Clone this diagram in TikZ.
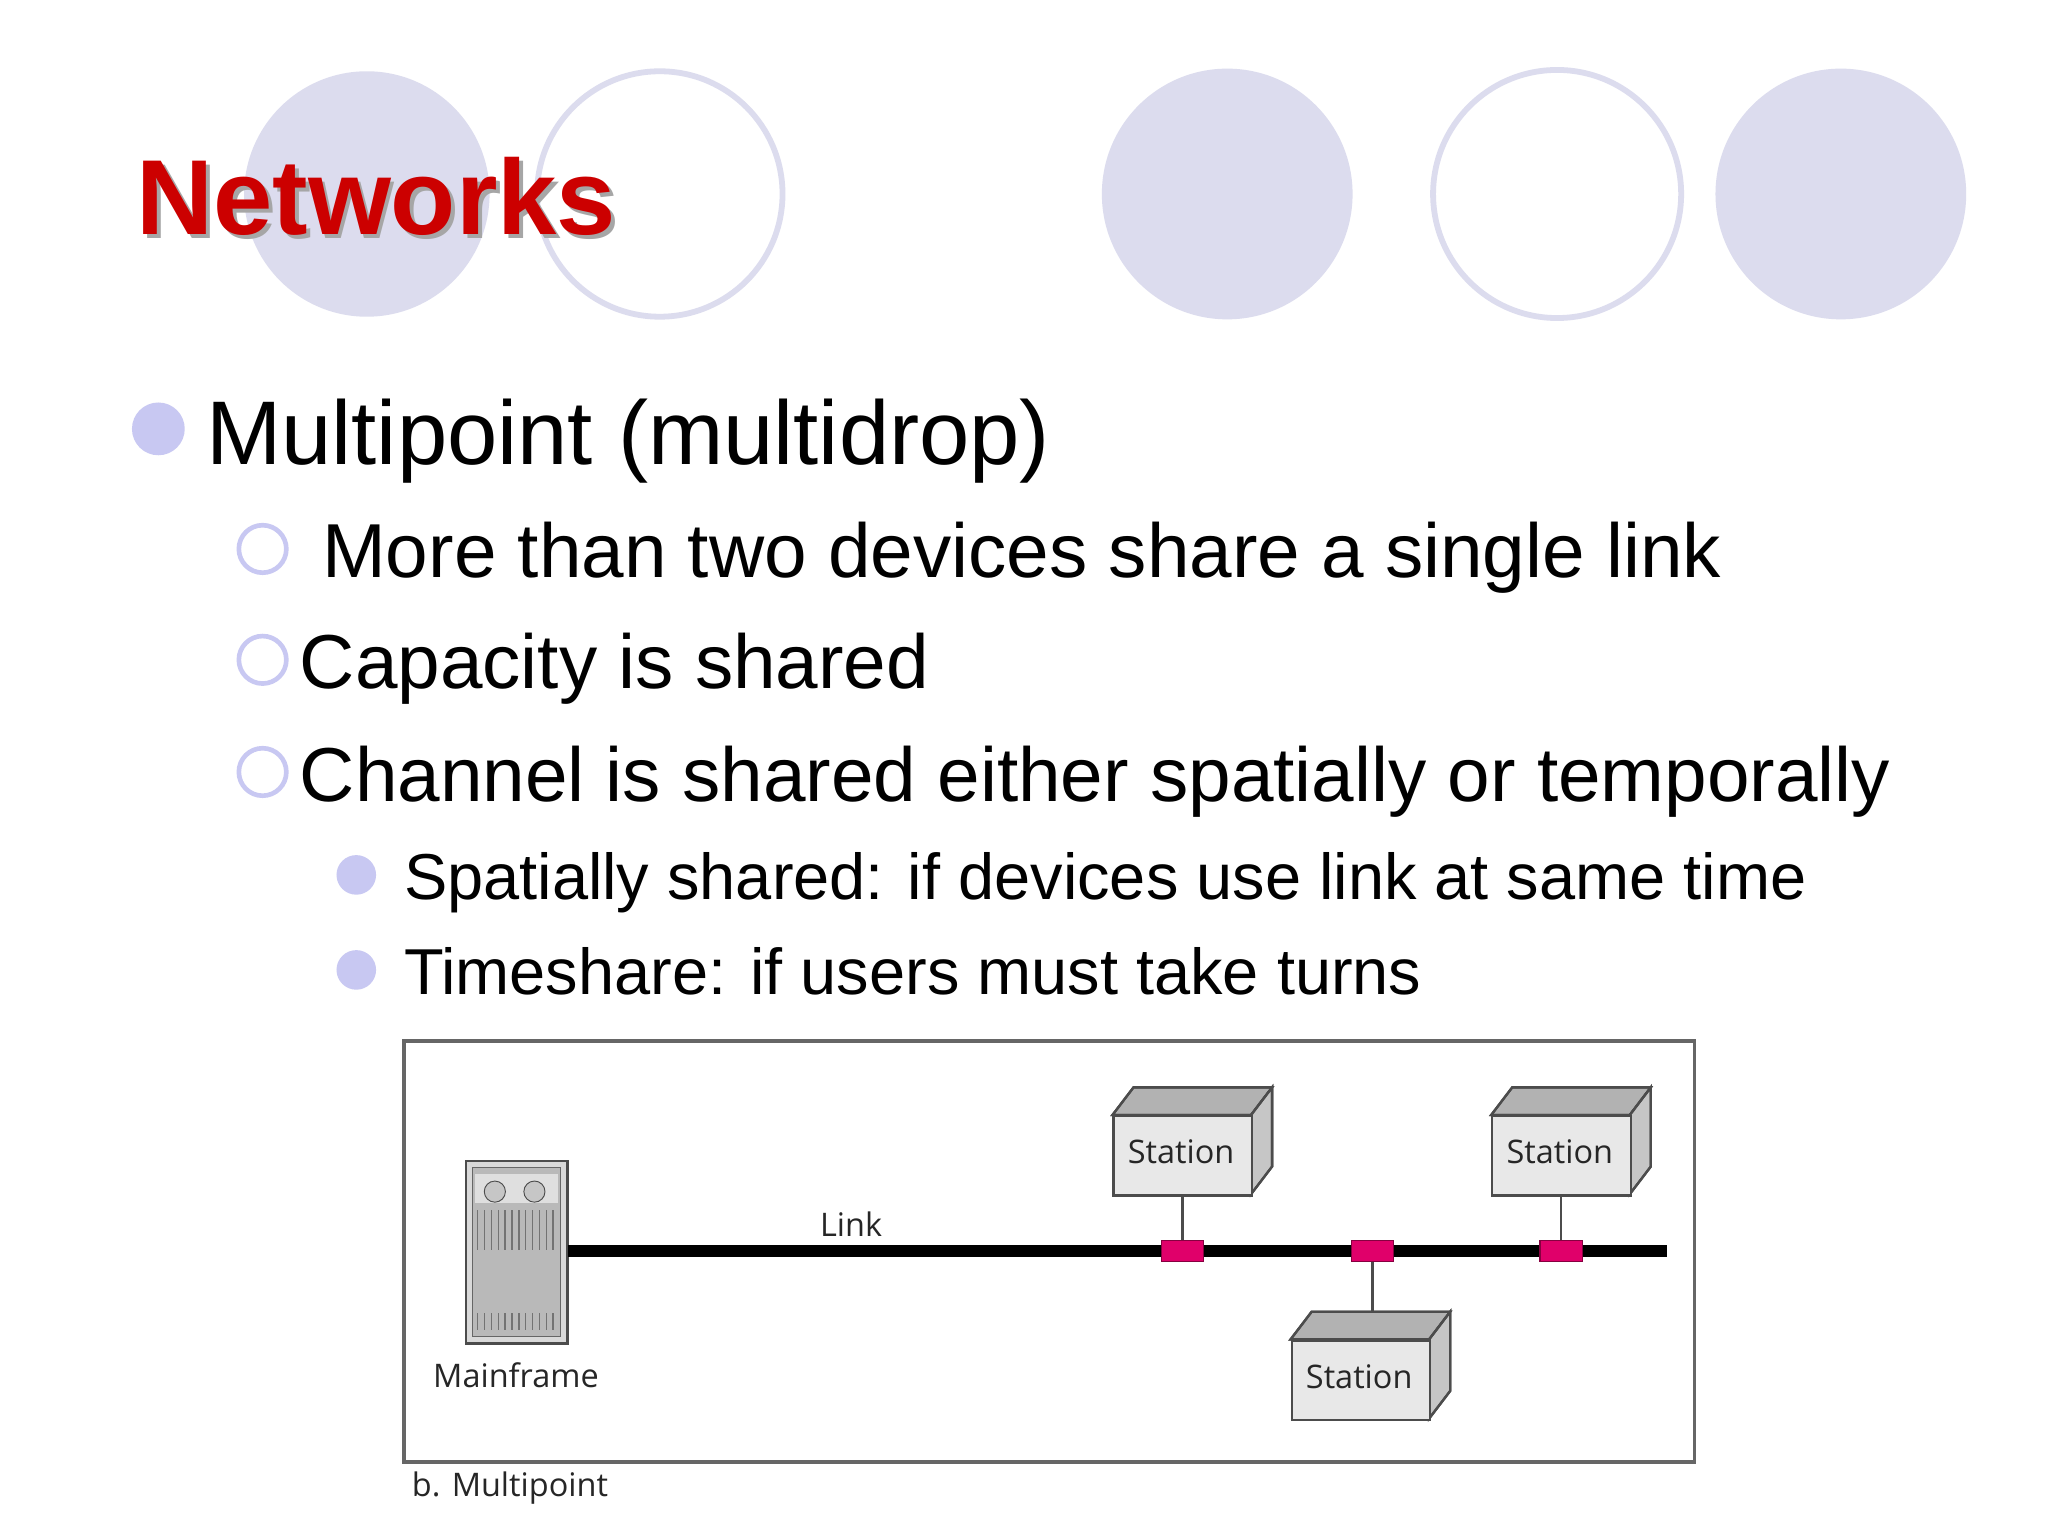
\documentclass[tikz,border=0pt]{standalone}
\usepackage{fontspec}
\setmainfont{Liberation Sans}
\newfontfamily\figfont{Open Sans}
\begin{document}
\begin{tikzpicture}[x=0.02cm,y=-0.02cm]
\definecolor{lav}{HTML}{DCDCEE}
\definecolor{lavb}{HTML}{C8C8F2}
\definecolor{tred}{HTML}{CC0000}
\definecolor{pinkc}{HTML}{E0006A}
\tikzset{
  deco/.style={fill=lav,draw=none},
  decoo/.style={draw=lav,line width=2.5pt,fill=white},
  lvA/.style={anchor=base west,font=\fontsize{39}{46}\selectfont},
  lvB/.style={anchor=base west,font=\fontsize{33}{40}\selectfont},
  lvC/.style={anchor=base west,font=\fontsize{28}{34}\selectfont},
  bulB/.style={draw=lavb,line width=2pt,fill=white},
  stfront/.style={fill=gray!18,draw=black!70,line width=1pt},
  sttop/.style={fill=gray!60,draw=black!70,line width=1pt},
  stside/.style={fill=gray!45,draw=black!70,line width=1pt},
  stlbl/.style={font=\figfont\fontsize{14}{17}\selectfont,text=black!85},
  tap/.style={fill=pinkc,draw=pinkc!60!black,line width=0.6pt,minimum width=32*0.02cm,minimum height=16*0.02cm,inner sep=0pt},
}
\useasboundingbox (0,0) rectangle (1552,1164);
\fill[white] (0,0) rectangle (1552,1164);
% decorative circles
\fill[deco] (278,147) circle (93);
\draw[decoo,fill=none] (500,147) circle (93);
\fill[deco] (930,147) circle (95);
\draw[decoo] (1180,147) circle (94);
\fill[deco] (1395,147) circle (95);
% title
\node[anchor=base west,font=\bfseries\fontsize{46}{54}\selectfont,text=black!35] at (100,181) {Networks};
\node (title) [anchor=base west,font=\bfseries\fontsize{46}{54}\selectfont,text=tred] at (97,178) {Networks};
% bullets
\fill[lavb] (120,325) circle (20);
\node (b1) [lvA] at (150,352) {Multipoint (multidrop)};
\draw[bulB] (199,416) circle (18);
\node (b2) [lvB] at (238,438) {More than two devices share a single link};
\draw[bulB] (199,500) circle (18);
\node (b3) [lvB] at (221,522) {Capacity is shared};
\draw[bulB] (199,585) circle (18);
\node (b4) [lvB] at (221,607) {Channel is shared either spatially or temporally};
\fill[lavb] (270,663) circle (15);
\node (b5) [lvC] at (300,682) {Spatially shared: if devices use link at same time};
\fill[lavb] (270,735) circle (15);
\node (b6) [lvC] at (300,754) {Timeshare: if users must take turns};
% figure box
\draw[black!60,line width=1.5pt] (306,789) rectangle (1284,1108);
% mainframe
\draw[black!70,line width=1pt,fill=gray!30] (353,880) rectangle (430,1018);
\draw[black!60,fill=gray!55] (358,885) rectangle (425,1013);
\fill[gray!25] (360,890) rectangle (423,912);
\draw[black!70,fill=gray!45] (375,903) circle (8);
\draw[black!70,fill=gray!45] (405,903) circle (8);
\foreach \i in {0,...,11}{\draw[black!55,line width=0.6pt] (362+\i*5.2,917) -- (362+\i*5.2,947);}
\foreach \i in {0,...,11}{\draw[black!55,line width=0.6pt] (362+\i*5.2,995) -- (362+\i*5.2,1008);}
\node (mf) [inner sep=0pt,minimum width=77*0.02cm,minimum height=138*0.02cm] at (391.5,949) {};
\node (mflbl) [stlbl] at (391,1042) {Mainframe};
% link
\coordinate (lend) at (1263,948);
\draw[line width=5pt] (mf.east |- lend) -- (lend);
\node (link) [stlbl] at (645,928) {Link};
% taps
\node (t1) [tap] at (896,948) {};
\node (t2) [tap] at (1040,948) {};
\node (t3) [tap] at (1183,948) {};
% stations
\foreach \n/\x/\y in {s1/843/845,s2/1130/845,s3/978/1015}{
  \fill[sttop] (\x,\y) -- (\x+16,\y-21) -- (\x+121,\y-21) -- (\x+105,\y) -- cycle;
  \fill[stside] (\x+105,\y) -- (\x+121,\y-21) -- (\x+121,\y+39) -- (\x+105,\y+60) -- cycle;
  \draw[black!70,line width=1pt] (\x,\y) -- (\x+16,\y-21) -- (\x+121,\y-21) -- (\x+105,\y) -- cycle (\x+105,\y) -- (\x+121,\y-21) -- (\x+121,\y+39) -- (\x+105,\y+60);
  \node (\n) [stfront,minimum width=105*0.02cm,minimum height=60*0.02cm,inner sep=0pt,anchor=north west] at (\x,\y) {};
  \node [stlbl] at (\x+52,\y+28) {Station};
}
\draw[black!70,line width=1pt] (s1.south -| t1) -- (t1.north);
\draw[black!70,line width=1pt] (s2.south -| t3) -- (t3.north);
\draw[black!70,line width=1pt] (t2.south) -- (t2 |- 0,994);
\node (cap) [stlbl,anchor=west] at (306,1128) {b. Multipoint};
\end{tikzpicture}
\end{document}
